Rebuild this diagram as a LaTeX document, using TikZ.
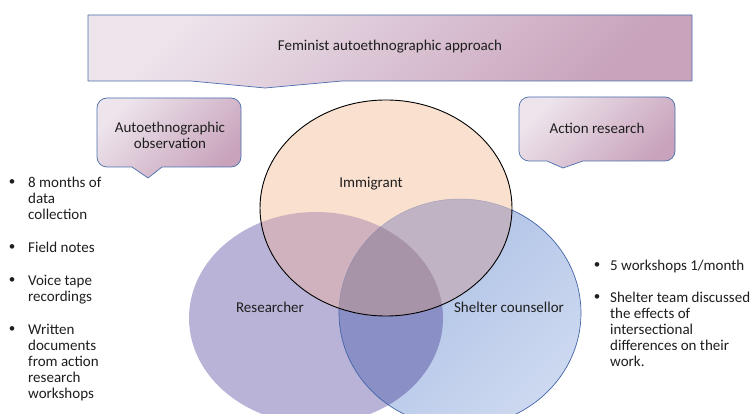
\documentclass[tikz,border=0pt]{standalone}
\usepackage{fontspec}
\setmainfont{Carlito}
\definecolor{txt}{HTML}{1E1E1E}
\definecolor{bord}{HTML}{4A6FAE}
\definecolor{boxA}{HTML}{EDE4EC}
\definecolor{boxB}{HTML}{C8A3BB}
\definecolor{imm}{HTML}{FAE0CF}
\definecolor{res}{HTML}{B9B3D7}
\definecolor{shA}{HTML}{A8BCE3}
\definecolor{shB}{HTML}{CDD9F0}
\definecolor{ir}{HTML}{D0B2BE}
\definecolor{is}{HTML}{C0B3C3}
\definecolor{irs}{HTML}{A894A9}
\definecolor{rs}{HTML}{8A8FC6}
\definecolor{shline}{HTML}{4464A8}
\tikzset{
  boxshape/.style={draw=bord, line width=0.7pt, top color=boxA, bottom color=boxB, shading angle=45},
  lbl/.style={font=\fontsize{15}{16}\selectfont, text=txt, inner sep=0pt, align=center},
  itemtext/.style={font=\fontsize{15}{16}\selectfont, text=txt, inner sep=0pt, align=left, anchor=north west},
  bul/.style={font=\fontsize{13}{16}\selectfont, text=txt, inner sep=0pt}
}
\begin{document}
\begin{tikzpicture}[x=1pt,y=-1pt]
\useasboundingbox (0,0) rectangle (753,414);
\fill[white] (0,0) rectangle (753,414);
% banner
\path[boxshape] (88,15) -- (692,15) -- (692,81) -- (342,81) -- (265,88) -- (191,81) -- (88,81) -- cycle;
\node[lbl] (fem) at (390,47) {Feminist autoethnographic approach};
% callouts
\path[boxshape] (97,130) [rounded corners=10pt] -- (97,98) -- (241,98) -- (241,167) [sharp corners] -- (162,167) -- (148,178) -- (132,167) [rounded corners=10pt] -- (97,167) -- (97,130);
\node[lbl] (auto) at (170,135) {Autoethnographic\\observation};
\path[boxshape] (519,130) [rounded corners=10pt] -- (519,97) -- (675,97) -- (675,161) [sharp corners] -- (583,161) -- (563,168) -- (547,161) [rounded corners=10pt] -- (519,161) -- (519,130);
\node[lbl] (act) at (597,128) {Action research};
% venn
\def\Ipath{(386,208) ellipse [x radius=126pt, y radius=108pt]}
\def\Rpath{(316,318) ellipse [x radius=127pt, y radius=106pt]}
\def\Spath{(460,313) ellipse [x radius=121pt, y radius=114pt]}
\fill[res] \Rpath;
\shade[top color=shA, bottom color=shB, shading angle=45] \Spath;
\begin{scope}
  \clip \Rpath;
  \fill[rs] \Spath;
\end{scope}
\draw[shline, line width=0.7pt] \Spath;
\fill[imm] \Ipath;
\begin{scope}
  \clip \Ipath;
  \fill[ir] \Rpath;
  \fill[is] \Spath;
  \draw[color=is!80!shline, line width=0.5pt] \Spath;
  \clip \Rpath;
  \fill[irs] \Spath;
  \draw[color=irs!85!shline, line width=0.5pt] \Spath;
\end{scope}
\draw[black, line width=0.9pt] \Ipath;
\node[lbl] (imml) at (371,184) {Immigrant};
\node[lbl] (resl) at (270,307) {Researcher};
\node[lbl] (shl) at (509,307) {Shelter counsellor};
% left list
\node[bul] (lb1) at (12,183) {•};
\node[itemtext] (lt1) at (28,176.3) {\strut 8 months of\\data\\collection};
\node[bul] (lb2) at (12,248) {•};
\node[itemtext] (lt2) at (28,241.3) {\strut Field notes};
\node[bul] (lb3) at (12,281) {•};
\node[itemtext] (lt3) at (28,274.3) {\strut Voice tape\\recordings};
\node[bul] (lb4) at (12,330) {•};
\node[itemtext] (lt4) at (28,323.3) {\strut Written\\documents\\from action\\research\\workshops};
% right list
\node[bul] (rb1) at (597,266) {•};
\node[itemtext] (rt1) at (610,259.3) {\strut 5 workshops 1/month};
\node[bul] (rb2) at (597,298) {•};
\node[itemtext] (rt2) at (610,291.3) {\strut Shelter team discussed\\the effects of\\intersectional\\differences on their\\work.};
\end{tikzpicture}
\end{document}
